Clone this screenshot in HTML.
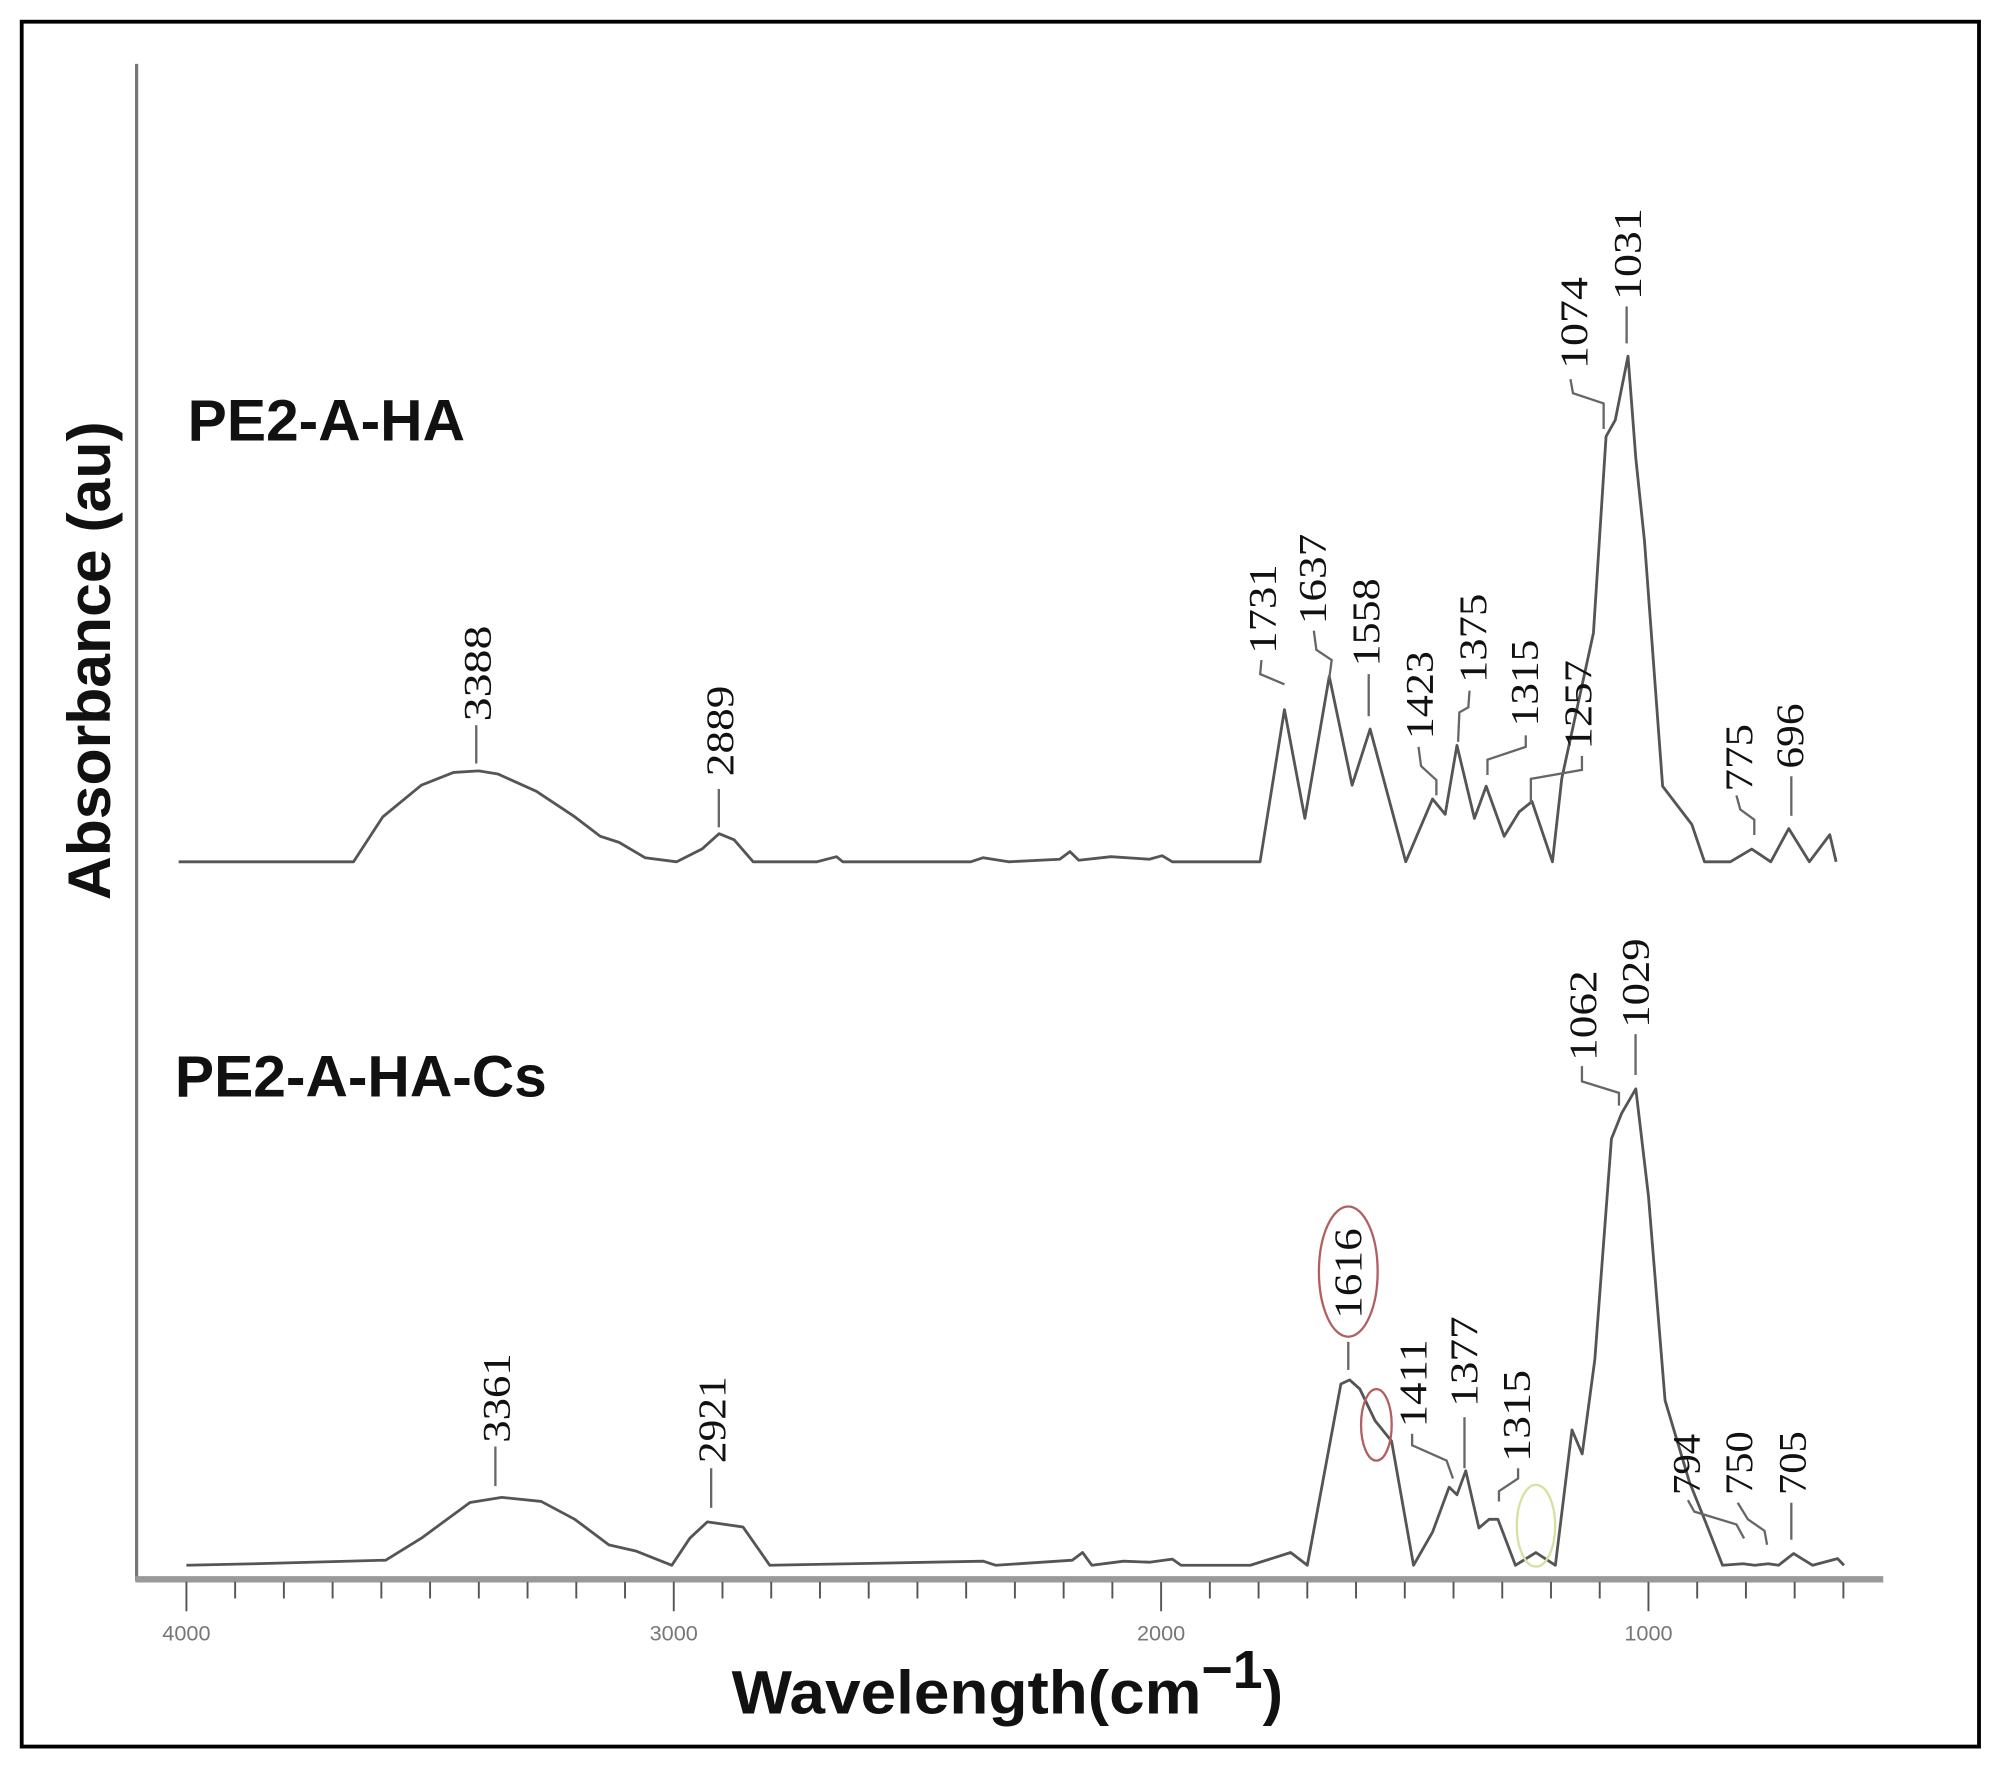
<!DOCTYPE html>
<html><head><meta charset="utf-8"><style>
html,body{margin:0;padding:0;background:#fff;width:2002px;height:1767px;overflow:hidden}
svg{display:block}
.lbl{font-family:"Liberation Serif",serif;font-size:31px;fill:#111}
.tick{font-family:"Liberation Sans",sans-serif;font-size:17px;fill:#777}
.ld{fill:none;stroke:#666;stroke-width:1.8}
</style></head><body>
<svg id="chart" width="2002" height="1767" viewBox="0 0 1568 1384" preserveAspectRatio="none" xmlns="http://www.w3.org/2000/svg">
<rect x="17" y="17" width="1533" height="1351" fill="none" stroke="#000" stroke-width="3"/>
<line x1="107" y1="50" x2="107" y2="1238" stroke="#777" stroke-width="2.5"/>
<line x1="106" y1="1237" x2="1475" y2="1237" stroke="#999" stroke-width="5"/>
<g id="ticks"></g>
<text transform="translate(86,705) rotate(-90)" font-family="Liberation Sans, sans-serif" font-weight="bold" font-size="47" fill="#111" textLength="375" lengthAdjust="spacingAndGlyphs">Absorbance (au)</text>
<text x="573" y="1342" font-family="Liberation Sans, sans-serif" font-weight="bold" font-size="48" fill="#111"><tspan textLength="368" lengthAdjust="spacingAndGlyphs">Wavelength(cm</tspan><tspan dy="-20" font-size="42">−1</tspan><tspan dy="20">)</tspan></text>
<text x="147" y="345" font-family="Liberation Sans, sans-serif" font-weight="bold" font-size="46" fill="#111">PE2-A-HA</text>
<text x="137" y="859" font-family="Liberation Sans, sans-serif" font-weight="bold" font-size="46" fill="#111">PE2-A-HA-Cs</text>
<path id="top" fill="none" stroke="#555" stroke-width="2.2" stroke-linejoin="round"/>
<path id="bot" fill="none" stroke="#555" stroke-width="2.2" stroke-linejoin="round"/>
<g id="ann"></g>
<ellipse cx="1056" cy="996" rx="23" ry="51" fill="none" stroke="#b06060" stroke-width="1.8"/>
<ellipse cx="1078" cy="1116" rx="12" ry="28" fill="none" stroke="#b06060" stroke-width="1.8"/>
<ellipse cx="1203" cy="1195" rx="15" ry="32" fill="none" stroke="#d8e0a0" stroke-width="1.8"/>
</svg>
<script>
// Series data: wavenumber (cm-1) and absorbance (au)
const topWave=[4016,3657,3597,3518,3452,3400,3361,3282,3203,3151,3112,3059,2994,2942,2907,2876,2837,2706,2666,2653,2391,2365,2313,2208,2187,2169,2103,2024,1998,1977,1797,1747,1705,1655,1608,1571,1498,1443,1417,1393,1357,1333,1296,1265,1239,1197,1178,1113,1087,1068,1042,1026,1008,971,911,885,832,788,749,712,670,628,615];
const topAbs=[0,0,0.088,0.15,0.175,0.178,0.172,0.138,0.088,0.05,0.038,0.008,0,0.025,0.055,0.043,0,0,0.01,0,0,0.008,0,0.005,0.02,0.003,0.01,0.005,0.012,0,0,0.298,0.085,0.363,0.15,0.26,0,0.123,0.093,0.228,0.085,0.148,0.05,0.098,0.118,0,0.163,0.448,0.833,0.865,0.99,0.79,0.628,0.148,0.073,0,0,0.025,0,0.065,0,0.053,0];
const botWave=[4000,3859,3591,3518,3418,3353,3272,3203,3133,3078,3004,2967,2931,2858,2803,2365,2339,2182,2161,2142,2077,2024,1977,1959,1817,1734,1700,1631,1613,1592,1561,1527,1482,1443,1409,1393,1375,1348,1327,1309,1273,1231,1191,1157,1136,1110,1076,1055,1026,1000,966,916,882,848,806,782,754,733,702,663,612,599];
const botAbs=[0,0.003,0.01,0.053,0.123,0.133,0.125,0.09,0.04,0.028,0,0.053,0.085,0.075,0,0.008,0,0.01,0.025,0,0.008,0.006,0.012,0,0,0.025,0,0.355,0.363,0.345,0.283,0.243,0,0.065,0.153,0.138,0.185,0.073,0.09,0.09,0,0.025,0,0.265,0.218,0.403,0.835,0.885,0.933,0.723,0.323,0.163,0.083,0,0.003,0,0.003,0,0.023,0,0.013,0];
const tickVals=[4000,3000,2000,1000];
const tickLabels=["4000","3000","2000","1000"];

function xS(w){return 146+(4000-w)*0.3817;}
function yTop(a){return 675-a*400;}
function yBot(a){return 1226-a*400;}
function pathD(ws,as,yf){return ws.map((w,i)=>(i?'L':'M')+xS(w).toFixed(1)+','+yf(as[i]).toFixed(1)).join(' ');}
document.getElementById('top').setAttribute('d',pathD(topWave,topAbs,yTop));
document.getElementById('bot').setAttribute('d',pathD(botWave,botAbs,yBot));

const NS='http://www.w3.org/2000/svg';
const tg=document.getElementById('ticks');
for(let w=4000;w>=600;w-=100){
  const l=document.createElementNS(NS,'line');
  
  
  const x=xS(w);
  l.setAttribute('x1',x);l.setAttribute('x2',x);
  l.setAttribute('y1',1239);l.setAttribute('y2',w%1000===0?1262:1252);
  l.setAttribute('stroke','#555');l.setAttribute('stroke-width','1.5');
  tg.appendChild(l);
}
tickVals.forEach((w,i)=>{
  const t=document.createElementNS(NS,'text');
  
  
  t.setAttribute('x',xS(w));t.setAttribute('y',1285);
  t.setAttribute('text-anchor','middle');t.setAttribute('class','tick');
  t.textContent=tickLabels[i];
  tg.appendChild(t);
});

// annotations: [label, center x, top y, bottom y, leader points]
const ann=[
 ["3388",373,490,565,[[373,568],[373,598]]],
 ["2889",563,537,608,[[563,618],[563,648]]],
 ["1731",988,442,512,[[988,517],[987,528],[1006,536]]],
 ["1637",1027,418,489,[[1029,494],[1031,509],[1043,517],[1041,532]]],
 ["1558",1069,453,522,[[1072,528],[1072,561]]],
 ["1423",1111,510,579,[[1111,585],[1113,600],[1125,611],[1125,623]]],
 ["1375",1153,465,535,[[1151,541],[1150,554],[1143,558],[1142,581]]],
 ["1315",1193,501,569,[[1195,576],[1195,585],[1165,595],[1165,607]]],
 ["1257",1235,517,587,[[1239,592],[1239,603],[1199,610],[1199,629]]],
 ["1074",1232,217,289,[[1230,297],[1232,308],[1256,316],[1256,336]]],
 ["1031",1274,163,235,[[1274,240],[1274,269]]],
 ["775",1361,567,620,[[1360,623],[1363,634],[1374,642],[1374,654]]],
 ["696",1401,551,602,[[1403,608],[1403,639]]],
 ["3361",388,1060,1130,[[388,1133],[388,1164]]],
 ["2921",557,1078,1146,[[557,1150],[557,1181]]],
 ["1616",1055,962,1033,[[1056,1051],[1056,1073]]],
 ["1411",1106,1049,1118,[[1106,1123],[1106,1132],[1133,1144],[1138,1158]]],
 ["1377",1146,1031,1102,[[1147,1110],[1147,1150]]],
 ["1315",1187,1073,1145,[[1189,1150],[1189,1158],[1174,1168],[1174,1176]]],
 ["1062",1239,760,831,[[1239,835],[1239,847],[1268,856],[1268,866]]],
 ["1029",1280,735,805,[[1281,810],[1281,842]]],
 ["794",1320,1123,1171,[[1322,1175],[1327,1184],[1360,1194],[1366,1205]]],
 ["750",1361,1121,1171,[[1361,1177],[1369,1190],[1382,1199],[1384,1210]]],
 ["705",1403,1121,1171,[[1403,1177],[1403,1206]]]
];
const ag=document.getElementById('ann');
ann.forEach(a=>{
  const [txt,cx,y0,y1,pts]=a;
  const t=document.createElementNS(NS,'text');
  
  
  t.setAttribute('class','lbl');
  t.setAttribute('transform','translate('+(cx+11)+','+y1+') rotate(-90)');
  t.setAttribute('textLength',(y1-y0));
  t.setAttribute('lengthAdjust','spacingAndGlyphs');
  t.textContent=txt;
  ag.appendChild(t);
  const p=document.createElementNS(NS,'polyline');
  
  
  p.setAttribute('class','ld');
  p.setAttribute('points',pts.map(q=>q.join(',')).join(' '));
  ag.appendChild(p);
});
</script>
</body></html>
